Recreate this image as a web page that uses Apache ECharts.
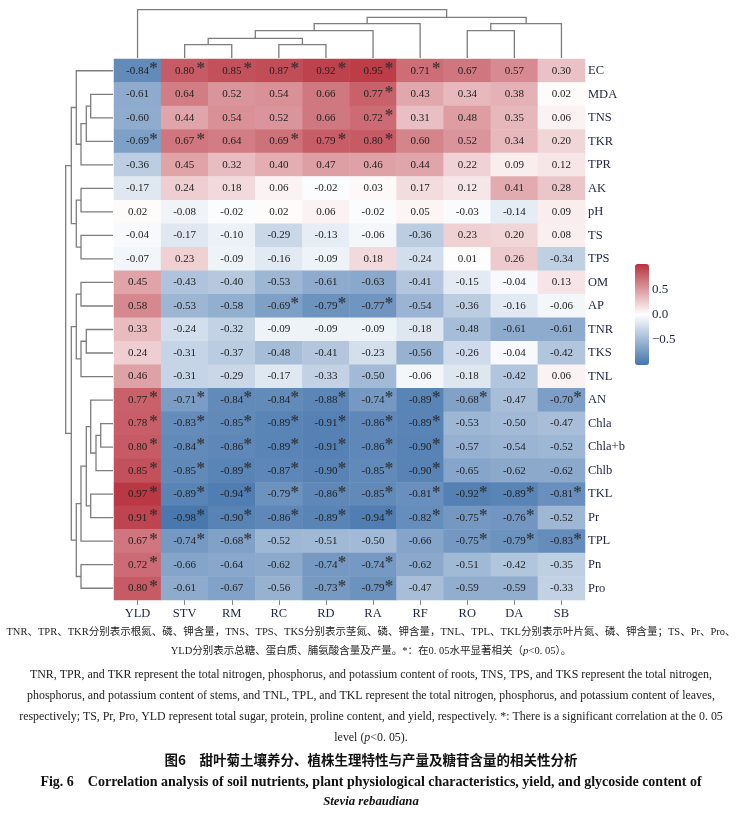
<!DOCTYPE html>
<html>
<head>
<meta charset="utf-8">
<script src="https://cdn.jsdelivr.net/npm/echarts@6/dist/echarts.min.js"></script>
<style>
html,body{margin:0;padding:0;background:#fff;}
#chart{width:742px;height:818px;}
</style>
</head>
<body>
<div id="chart"></div>
<script>
// columns / rows in dendrogram order
var cols = ['YLD', 'STV', 'RM', 'RC', 'RD', 'RA', 'RF', 'RO', 'DA', 'SB'];
var rows = ['EC', 'MDA', 'TNS', 'TKR', 'TPR', 'AK', 'pH', 'TS', 'TPS', 'OM', 'AP', 'TNR',
            'TKS', 'TNL', 'AN', 'Chla', 'Chla+b', 'Chlb', 'TKL', 'Pr', 'TPL', 'Pn', 'Pro'];

// correlation values, one array per row
var corr = [
    [-0.84, 0.80, 0.85, 0.87, 0.92, 0.95, 0.71, 0.67, 0.57, 0.30],
    [-0.61, 0.64, 0.52, 0.54, 0.66, 0.77, 0.43, 0.34, 0.38, 0.02],
    [-0.60, 0.44, 0.54, 0.52, 0.66, 0.72, 0.31, 0.48, 0.35, 0.06],
    [-0.69, 0.67, 0.64, 0.69, 0.79, 0.80, 0.60, 0.52, 0.34, 0.20],
    [-0.36, 0.45, 0.32, 0.40, 0.47, 0.46, 0.44, 0.22, 0.09, 0.12],
    [-0.17, 0.24, 0.18, 0.06, -0.02, 0.03, 0.17, 0.12, 0.41, 0.28],
    [0.02, -0.08, -0.02, 0.02, 0.06, -0.02, 0.05, -0.03, -0.14, 0.09],
    [-0.04, -0.17, -0.10, -0.29, -0.13, -0.06, -0.36, 0.23, 0.20, 0.08],
    [-0.07, 0.23, -0.09, -0.16, -0.09, 0.18, -0.24, 0.01, 0.26, -0.34],
    [0.45, -0.43, -0.40, -0.53, -0.61, -0.63, -0.41, -0.15, -0.04, 0.13],
    [0.58, -0.53, -0.58, -0.69, -0.79, -0.77, -0.54, -0.36, -0.16, -0.06],
    [0.33, -0.24, -0.32, -0.09, -0.09, -0.09, -0.18, -0.48, -0.61, -0.61],
    [0.24, -0.31, -0.37, -0.48, -0.41, -0.23, -0.56, -0.26, -0.04, -0.42],
    [0.46, -0.31, -0.29, -0.17, -0.33, -0.50, -0.06, -0.18, -0.42, 0.06],
    [0.77, -0.71, -0.84, -0.84, -0.88, -0.74, -0.89, -0.68, -0.47, -0.70],
    [0.78, -0.83, -0.85, -0.89, -0.91, -0.86, -0.89, -0.53, -0.50, -0.47],
    [0.80, -0.84, -0.86, -0.89, -0.91, -0.86, -0.90, -0.57, -0.54, -0.52],
    [0.85, -0.85, -0.89, -0.87, -0.90, -0.85, -0.90, -0.65, -0.62, -0.62],
    [0.97, -0.89, -0.94, -0.79, -0.86, -0.85, -0.81, -0.92, -0.89, -0.81],
    [0.91, -0.98, -0.90, -0.86, -0.89, -0.94, -0.82, -0.75, -0.76, -0.52],
    [0.67, -0.74, -0.68, -0.52, -0.51, -0.50, -0.66, -0.75, -0.79, -0.83],
    [0.72, -0.66, -0.64, -0.62, -0.74, -0.74, -0.62, -0.51, -0.42, -0.35],
    [0.80, -0.61, -0.67, -0.56, -0.73, -0.79, -0.47, -0.59, -0.59, -0.33]
];

// significance (p<0.05) flags, same layout
var sig = [
    [1, 1, 1, 1, 1, 1, 1, 0, 0, 0],
    [0, 0, 0, 0, 0, 1, 0, 0, 0, 0],
    [0, 0, 0, 0, 0, 1, 0, 0, 0, 0],
    [1, 1, 0, 1, 1, 1, 0, 0, 0, 0],
    [0, 0, 0, 0, 0, 0, 0, 0, 0, 0],
    [0, 0, 0, 0, 0, 0, 0, 0, 0, 0],
    [0, 0, 0, 0, 0, 0, 0, 0, 0, 0],
    [0, 0, 0, 0, 0, 0, 0, 0, 0, 0],
    [0, 0, 0, 0, 0, 0, 0, 0, 0, 0],
    [0, 0, 0, 0, 0, 0, 0, 0, 0, 0],
    [0, 0, 0, 1, 1, 1, 0, 0, 0, 0],
    [0, 0, 0, 0, 0, 0, 0, 0, 0, 0],
    [0, 0, 0, 0, 0, 0, 0, 0, 0, 0],
    [0, 0, 0, 0, 0, 0, 0, 0, 0, 0],
    [1, 1, 1, 1, 1, 1, 1, 1, 0, 1],
    [1, 1, 1, 1, 1, 1, 1, 0, 0, 0],
    [1, 1, 1, 1, 1, 1, 1, 0, 0, 0],
    [1, 1, 1, 1, 1, 1, 1, 0, 0, 0],
    [1, 1, 1, 1, 1, 1, 1, 1, 1, 1],
    [1, 1, 1, 1, 1, 1, 1, 1, 1, 0],
    [1, 1, 1, 0, 0, 0, 0, 1, 1, 1],
    [1, 0, 0, 0, 1, 1, 0, 0, 0, 0],
    [1, 0, 0, 0, 1, 1, 0, 0, 0, 0]
];

// hierarchical clustering merges: [childA, childB, height]; index >= n is an earlier merge
var colMerge = [
    [1, 2, 13.3], [3, 4, 13.3], [10, 11, 19.7], [12, 5, 27.3], [13, 6, 34.3],
    [7, 8, 27.3], [15, 9, 34.3], [14, 16, 40.7], [0, 17, 48.3]
];
var rowMerge = [
    [1, 2, 22.3], [23, 3, 26.7], [24, 4, 32], [0, 25, 36.7], [5, 6, 32],
    [7, 8, 32], [27, 28, 36.7], [26, 29, 41.7], [9, 10, 32], [11, 12, 26.7],
    [32, 13, 32], [31, 33, 36.7], [15, 16, 12.3], [35, 17, 17], [14, 36, 22.3],
    [18, 19, 22.3], [37, 38, 26.7], [39, 20, 32], [21, 22, 32], [40, 41, 36.7],
    [34, 42, 41.7], [30, 43, 47.3]
];

var barTicks = [-0.5, 0, 0.5];

var serif = '"Liberation Serif", "Times New Roman", serif';
var mixed = '"Liberation Serif", "Noto Sans CJK SC", serif';
var labelColor = '#1c2442';

function dendroSegs(merges, n) {
    var pos = [], hgt = [];
    for (var i = 0; i < n; i++) { pos[i] = i; hgt[i] = 0; }
    return merges.map(function (m, k) {
        var a = m[0], b = m[1];
        pos[n + k] = (pos[a] + pos[b]) / 2;
        hgt[n + k] = m[2];
        return [pos[a], hgt[a], pos[b], hgt[b], m[2]];
    });
}

var heatData = [], starData = [];
rows.forEach(function (r, i) {
    cols.forEach(function (c, j) {
        heatData.push([j, i, corr[i][j]]);
        if (sig[i][j]) starData.push([j, i]);
    });
});

var dendroStyle = {stroke: '#7d7d7d', lineWidth: 1.3, fill: null};

var chart = echarts.init(document.getElementById('chart'), null, {renderer: 'canvas'});
var option = {
    backgroundColor: '#fff',
    animation: false,
    grid: [
        {left: 114, top: 59, width: 471, height: 541},
        {left: 114, top: 8, width: 471, height: 50},
        {left: 63, top: 59, width: 50, height: 541},
        {left: 635, top: 264, width: 14, height: 101}
    ],
    xAxis: [
        {
            type: 'category', data: cols, gridIndex: 0, position: 'bottom',
            axisLine: {show: false},
            axisTick: {show: true, alignWithLabel: true, length: 5, lineStyle: {color: '#888'}},
            axisLabel: {margin: 7, fontFamily: serif, fontSize: 12.5, color: labelColor},
            splitLine: {show: false}
        },
        {type: 'value', gridIndex: 1, min: -0.5, max: 9.5, show: false},
        {type: 'value', gridIndex: 2, min: 0, max: 50, inverse: true, show: false},
        {type: 'value', gridIndex: 3, min: 0, max: 1, show: false}
    ],
    yAxis: [
        {
            type: 'category', data: rows, gridIndex: 0, inverse: true, position: 'right',
            axisLine: {show: false}, axisTick: {show: false},
            axisLabel: {margin: 3, fontFamily: serif, fontSize: 12.5, color: labelColor},
            splitLine: {show: false}
        },
        {type: 'value', gridIndex: 1, min: 0, max: 50, show: false},
        {type: 'value', gridIndex: 2, min: -0.5, max: 22.5, inverse: true, show: false},
        {
            type: 'value', gridIndex: 3, min: -1, max: 1, position: 'right',
            axisLine: {show: false},
            splitLine: {show: false},
            axisTick: {show: true, inside: true, length: 3, customValues: barTicks,
                       lineStyle: {color: '#fff', width: 1}},
            axisLabel: {
                customValues: barTicks, margin: 3, fontFamily: serif, fontSize: 13, color: labelColor,
                formatter: function (v) { return (v < 0 ? '\u2212' : '') + Math.abs(v).toFixed(1); }
            }
        }
    ],
    visualMap: {
        type: 'continuous', min: -1, max: 1, seriesIndex: 0,
        calculable: false, show: true, orient: 'vertical',
        left: 635, top: 264, itemWidth: 14, itemHeight: 101, padding: 0,
        text: null, showLabel: false,
        inRange: {color: ['#4575ad', '#ffffff', '#b8323e']}
    },
    series: [
        {
            type: 'heatmap', xAxisIndex: 0, yAxisIndex: 0, data: heatData,
            itemStyle: {borderWidth: 0},
            emphasis: {disabled: true},
            label: {
                show: true, fontFamily: serif, fontSize: 11, color: '#222',
                formatter: function (p) { return p.value[2].toFixed(2); }
            }
        },
        {
            type: 'scatter', xAxisIndex: 0, yAxisIndex: 0, data: starData,
            symbolSize: 1, itemStyle: {color: 'rgba(0,0,0,0)'}, silent: true, z: 5,
            label: {
                show: true, formatter: '*', position: 'inside', offset: [16, -2],
                fontFamily: serif, fontSize: 17, fontWeight: 'bold', color: '#2a2a2a'
            }
        },
        {
            type: 'custom', xAxisIndex: 1, yAxisIndex: 1, silent: true,
            data: dendroSegs(colMerge, cols.length),
            encode: {x: [0, 2], y: [1, 3, 4]},
            renderItem: function (params, api) {
                var pts = [
                    api.coord([api.value(0), api.value(1)]),
                    api.coord([api.value(0), api.value(4)]),
                    api.coord([api.value(2), api.value(4)]),
                    api.coord([api.value(2), api.value(3)])
                ];
                return {type: 'polyline', shape: {points: pts}, style: dendroStyle};
            }
        },
        {
            type: 'custom', xAxisIndex: 2, yAxisIndex: 2, silent: true,
            data: dendroSegs(rowMerge, rows.length),
            encode: {x: [1, 3, 4], y: [0, 2]},
            renderItem: function (params, api) {
                var pts = [
                    api.coord([api.value(1), api.value(0)]),
                    api.coord([api.value(4), api.value(0)]),
                    api.coord([api.value(4), api.value(2)]),
                    api.coord([api.value(3), api.value(2)])
                ];
                return {type: 'polyline', shape: {points: pts}, style: dendroStyle};
            }
        }
    ],
    graphic: [
        {type: 'text', left: 'center', top: 627, style: {
            text: 'TNR、TPR、TKR分别表示根氮、磷、钾含量，TNS、TPS、TKS分别表示茎氮、磷、钾含量，TNL、TPL、TKL分别表示叶片氮、磷、钾含量；TS、Pr、Pro、',
            font: '10.5px ' + mixed, fill: '#222'}},
        {type: 'text', left: 'center', top: 646, style: {
            text: 'YLD分别表示总糖、蛋白质、脯氨酸含量及产量。*：在0. 05水平显著相关（{i|p}<0. 05）。',
            font: '10.5px ' + mixed, fill: '#222',
            rich: {i: {fontStyle: 'italic', fontFamily: serif, fontSize: 11}}}},
        {type: 'text', left: 'center', top: 669, style: {
            text: 'TNR, TPR, and TKR represent the total nitrogen, phosphorus, and potassium content of roots, TNS, TPS, and TKS represent the total nitrogen,',
            font: '11.9px ' + serif, fill: '#222'}},
        {type: 'text', left: 'center', top: 690, style: {
            text: 'phosphorus, and potassium content of stems, and TNL, TPL, and TKL represent the total nitrogen, phosphorus, and potassium content of leaves,',
            font: '11.9px ' + serif, fill: '#222'}},
        {type: 'text', left: 'center', top: 711, style: {
            text: 'respectively; TS, Pr, Pro, YLD represent total sugar, protein, proline content, and yield, respectively. *: There is a significant correlation at the 0. 05',
            font: '11.9px ' + serif, fill: '#222'}},
        {type: 'text', left: 'center', top: 732, style: {
            text: 'level ({i|p}<0. 05).',
            font: '11.9px ' + serif, fill: '#222',
            rich: {i: {fontStyle: 'italic', fontFamily: serif, fontSize: 11.9}}}},
        {type: 'text', left: 'center', top: 753, style: {
            text: '图6　甜叶菊土壤养分、植株生理特性与产量及糖苷含量的相关性分析',
            font: 'bold 13.5px "Noto Sans CJK SC", sans-serif', fill: '#111'}},
        {type: 'text', left: 'center', top: 775, style: {
            text: 'Fig. 6　Correlation analysis of soil nutrients, plant physiological characteristics, yield, and glycoside content of',
            font: 'bold 14px ' + serif, fill: '#111'}},
        {type: 'text', left: 'center', top: 795, style: {
            text: 'Stevia rebaudiana',
            font: 'italic bold 12.8px ' + serif, fill: '#111'}}
    ]
};
chart.setOption(option);
</script>
</body>
</html>
